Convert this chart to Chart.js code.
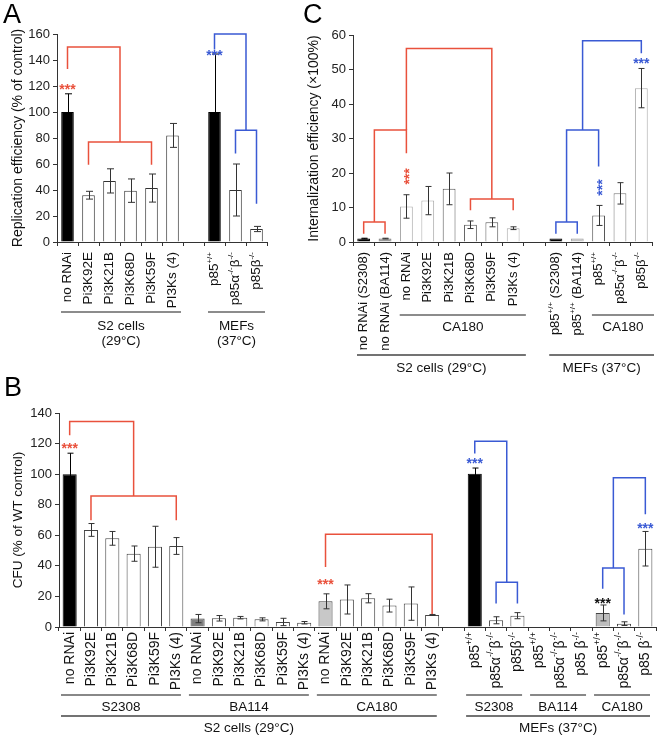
<!DOCTYPE html>
<html>
<head>
<meta charset="utf-8">
<script src="https://cdn.jsdelivr.net/npm/chart.js"></script>
<style>
  body { margin: 0; background: #fff; }
  #page { position: relative; width: 662px; height: 740px; }
  .box { position: absolute; }
</style>
</head>
<body>
<div id="page">
  <div class="box" style="left:0;top:0;width:290px;height:360px"><canvas id="chartA"></canvas></div>
  <div class="box" style="left:295px;top:0;width:367px;height:380px"><canvas id="chartC"></canvas></div>
  <div class="box" style="left:0;top:365px;width:662px;height:375px"><canvas id="chartB"></canvas></div>
</div>
<script>
// ---- panel A: replication efficiency
const labelsA = ['no RNAi', 'Pi3K92E', 'Pi3K21B', 'Pi3K68D', 'Pi3K59F', 'PI3Ks (4)', '',
  'p85^{+/+}', 'p85α^{-/-}β^{-/-}', 'p85β^{-/-}'];
const valuesA = [100, 36, 47, 39.5, 41.5, 82, null, 100, 40, 10];
const errorsA = [14, 3, 9.3, 9, 10.8, 9.2, null, 44.6, 20, 2];
const yTicksA = [0, 20, 40, 60, 80, 100, 120, 140, 160];
// brackets: horizontal at y from x1 to x2, drops to y1 / y2
const bracketsA = [
  { x1: 0, x2: 2.5, y: 150, y1: 133, y2: 77, c: 'red' },
  { x1: 1, x2: 4, y: 77, y1: 59.5, y2: 59.5, c: 'red' },
  { x1: 7, x2: 8.5, y: 160, y1: 148, y2: 86, c: 'blue' },
  { x1: 8, x2: 9, y: 86, y1: 68, y2: 29.5, c: 'blue' }
];
const starsA = [{ x: 0, y: 120, c: 'red' }, { x: 7, y: 146, c: 'blue' }];
const groupsA = [
  { from: 0, to: 5, text: ['S2 cells', '(29°C)'] },
  { from: 7, to: 9, text: ['MEFs', '(37°C)'] }
];

// ---- panel C: internalization efficiency
const labelsC = ['no RNAi (S2308)', 'no RNAi (BA114)', 'no RNAi', 'Pi3K92E', 'Pi3K21B', 'Pi3K68D',
  'Pi3K59F', 'PI3Ks (4)', '', 'p85^{+/+} (S2308)', 'p85^{+/+} (BA114)', 'p85^{+/+}',
  'p85α^{-/-}β^{-/-}', 'p85β^{-/-}'];
const valuesC = [1, 1, 10.3, 12, 15.4, 5, 5.7, 4, null, 1, 1, 7.7, 14.1, 44.6];
const errorsC = [0.1, 0.1, 3.4, 4.1, 4.6, 1.1, 1.3, 0.4, null, 0, 0, 2.9, 3.1, 5.7];
const yTicksC = [0, 10, 20, 30, 40, 50, 60];
const bracketsC = [
  { x1: 0, x2: 1, y: 5.8, y1: 2.4, y2: 2.4, c: 'red' },
  { x1: 0.5, x2: 2, y: 32.5, y1: 5.8, y2: 25.7, c: 'red' },
  { x1: 2, x2: 6, y: 56.1, y1: 32.5, y2: 12.5, c: 'red' },
  { x1: 5, x2: 7, y: 12.5, y1: 9.2, y2: 9.2, c: 'red' },
  { x1: 9, x2: 10, y: 5.8, y1: 2.4, y2: 2.4, c: 'blue' },
  { x1: 9.5, x2: 11, y: 32.5, y1: 5.8, y2: 21.9, c: 'blue' },
  { x1: 10.25, x2: 13, y: 58.3, y1: 32.5, y2: 54.7, c: 'blue' }
];
const starsC = [
  { x: 2, y: 19, c: 'red', rot: true },
  { x: 11, y: 15.8, c: 'blue', rot: true },
  { x: 13, y: 52.7, c: 'blue' }
];
const groupsC1 = [{ from: 2, to: 7, text: ['CA180'] }, { from: 11, to: 13, text: ['CA180'] }];
const groupsC2 = [{ from: 0, to: 7, text: ['S2 cells (29°C)'] }, { from: 9, to: 13, text: ['MEFs (37°C)'] }];

// ---- panel B: CFU
const rnaiSet = ['no RNAi', 'Pi3K92E', 'Pi3K21B', 'Pi3K68D', 'Pi3K59F', 'PI3Ks (4)'];
const labelsB = [...rnaiSet, ...rnaiSet, ...rnaiSet, '',
  'p85^{+/+}', 'p85α^{-/-}β^{-/-}', 'p85β^{-/-}',
  'p85^{+/+}', 'p85α^{-/-}β^{-/-}', 'p85 β^{-/-}',
  'p85^{+/+}', 'p85α^{-/-}β^{-/-}', 'p85 β^{-/-}'];
const valuesB = [100, 63.5, 58, 48, 52.5, 53,
  5.5, 5.7, 6.1, 5, 3.3, 2.8,
  16.8, 18, 18.8, 14, 15.3, 7.9, null,
  100.3, 4.4, 7.4, 0.3, 0.3, 0.3, 9.2, 2.2, 51.2];
const errorsB = [13.7, 4.2, 4.5, 5, 13.4, 5.5,
  2.7, 1.8, 0.8, 1, 2.4, 0.8,
  4.9, 9.5, 3, 4.2, 10.9, 0.3, null,
  3.7, 2.3, 2, 0, 0, 0, 5.2, 1.2, 11.3];
const yTicksB = [0, 20, 40, 60, 80, 100, 120, 140];
const bracketsB = [
  { x1: 0, x2: 3, y: 134.5, y1: 125.4, y2: 85.7, c: 'red' },
  { x1: 1, x2: 5, y: 85.7, y1: 69.8, y2: 69.8, c: 'red' },
  { x1: 12, x2: 17, y: 60.6, y1: 39.2, y2: 8.5, c: 'red' },
  { x1: 19, x2: 20.5, y: 121.5, y1: 113.5, y2: 29.2, c: 'blue' },
  { x1: 20, x2: 21, y: 29.2, y1: 15.4, y2: 15.4, c: 'blue' },
  { x1: 25.5, x2: 27, y: 97.7, y1: 38.6, y2: 73.7, c: 'blue' },
  { x1: 25, x2: 26, y: 38.6, y1: 25, y2: 8.1, c: 'blue' }
];
const starsB = [
  { x: 0, y: 118.8, c: 'red' }, { x: 12, y: 30, c: 'red' }, { x: 19, y: 109.5, c: 'blue' },
  { x: 25, y: 17.5, c: 'black' }, { x: 27, y: 66.5, c: 'blue' }
];
const groupsB1 = [
  { from: 0, to: 5, text: ['S2308'] }, { from: 6, to: 11, text: ['BA114'] }, { from: 12, to: 17, text: ['CA180'] },
  { from: 19, to: 21, text: ['S2308'] }, { from: 22, to: 24, text: ['BA114'] }, { from: 25, to: 27, text: ['CA180'] }
];
const groupsB2 = [{ from: 0, to: 17, text: ['S2 cells (29°C)'] }, { from: 19, to: 27, text: ['MEFs (37°C)'] }];

// ---- styles
const FONT = '"Liberation Sans", Arial, sans-serif';
const AXIS = '#333';
const MARK = { red: '#e9513c', blue: '#3a5ad4', black: '#111' };
const W = '#fff';
const fillsA = ['#000', W, W, W, W, W, W, '#000', W, W];
const edgesA = ['#000', '#333', '#333', '#333', '#333', '#333', '#333', '#000', '#333', '#333'];
const fillsC = ['#000', '#9a9a9a', W, W, W, W, W, W, W, '#000', '#c4c4c4', W, W, W];
const edgesC = ['#000', '#777', '#aaa', '#aaa', '#555', '#555', '#555', '#aaa', '#555', '#000', '#999', '#555', '#777', '#aaa'];
const fillsB = ['#000', W, W, W, W, W, '#808080', W, W, W, W, W, '#c8c8c8', W, W, W, W, W, W,
  '#000', W, W, W, W, W, '#bdbdbd', W, W];
const edgesB = fillsB.map(c => c === '#000' ? '#000' : '#444');

Chart.defaults.font.family = FONT;

function parseRich(s) {
  const segs = [];
  const re = /\^\{([^}]*)\}/g;
  let last = 0, m;
  while ((m = re.exec(s))) {
    if (m.index > last) segs.push({ t: s.slice(last, m.index), sup: false });
    segs.push({ t: m[1], sup: true });
    last = re.lastIndex;
  }
  if (last < s.length) segs.push({ t: s.slice(last), sup: false });
  return segs;
}

function drawRotated(ctx, text, x, yTop, size) {
  const segs = parseRich(text);
  const main = size + 'px ' + FONT;
  const sup = Math.round(size * 0.62) + 'px ' + FONT;
  let w = 0;
  segs.forEach(s => { ctx.font = s.sup ? sup : main; s.w = ctx.measureText(s.t).width; w += s.w; });
  ctx.save();
  ctx.translate(x, yTop);
  ctx.rotate(-Math.PI / 2);
  ctx.textBaseline = 'middle';
  ctx.textAlign = 'left';
  let cx = -w;
  segs.forEach(s => {
    ctx.font = s.sup ? sup : main;
    ctx.fillText(s.t, cx, s.sup ? -size * 0.38 : 0);
    cx += s.w;
  });
  ctx.restore();
}

function makeDecor(cfg) {
  return {
    id: 'decor',
    afterDatasetsDraw(chart) {
      // error bars
      const ctx = chart.ctx, ys = chart.scales.y, xs = chart.scales.x;
      ctx.save();
      ctx.lineWidth = 1;
      cfg.values.forEach((v, i) => {
        const e = cfg.errors[i];
        if (v == null || !e) return;
        ctx.strokeStyle = cfg.fills[i] === '#000' ? '#000' : '#333';
        const x = Math.round(xs.getPixelForValue(i)) + 0.5;
        const t = ys.getPixelForValue(v + e), b = ys.getPixelForValue(Math.max(v - e, 0));
        ctx.beginPath();
        ctx.moveTo(x, t); ctx.lineTo(x, b);
        ctx.moveTo(x - cfg.cap, t); ctx.lineTo(x + cfg.cap, t);
        ctx.moveTo(x - cfg.cap, b); ctx.lineTo(x + cfg.cap, b);
        ctx.stroke();
      });
      ctx.restore();
    },
    afterDraw(chart) {
      const ctx = chart.ctx, ys = chart.scales.y, xs = chart.scales.x;
      const bottom = chart.chartArea.bottom;
      const px = i => xs.getPixelForValue(i);
      const half = (px(1) - px(0)) / 2;
      ctx.save();
      // panel letter
      ctx.fillStyle = '#000';
      ctx.font = '27px ' + FONT;
      ctx.textAlign = 'left';
      ctx.textBaseline = 'alphabetic';
      ctx.fillText(cfg.letter[0], cfg.letter[1], cfg.letter[2]);
      // category labels
      ctx.fillStyle = '#111';
      cfg.labels.forEach((l, i) => { if (l) drawRotated(ctx, l, px(i), bottom + cfg.labelGap, cfg.labelSize); });
      // group lines and texts
      cfg.groups.forEach(g => {
        g.list.forEach(it => {
          const a = px(it.from) - half + cfg.inset[0], b = px(it.to) + half - cfg.inset[1];
          ctx.strokeStyle = g.color;
          ctx.lineWidth = g.width;
          ctx.beginPath();
          ctx.moveTo(a, bottom + g.line); ctx.lineTo(b, bottom + g.line);
          ctx.stroke();
          ctx.fillStyle = '#111';
          ctx.font = cfg.groupSize + 'px ' + FONT;
          ctx.textAlign = 'center';
          ctx.textBaseline = 'middle';
          it.text.forEach((t, k) => ctx.fillText(t, (a + b) / 2, bottom + g.text[k]));
        });
      });
      // significance brackets
      ctx.lineWidth = 1.5;
      cfg.brackets.forEach(br => {
        ctx.strokeStyle = MARK[br.c];
        const a = px(br.x1), b = px(br.x2), y = ys.getPixelForValue(br.y);
        ctx.beginPath();
        ctx.moveTo(a, ys.getPixelForValue(br.y1));
        ctx.lineTo(a, y); ctx.lineTo(b, y);
        ctx.lineTo(b, ys.getPixelForValue(br.y2));
        ctx.stroke();
      });
      // stars
      const ss = 14;
      cfg.stars.forEach(s => {
        ctx.save();
        ctx.fillStyle = MARK[s.c];
        ctx.font = 'bold ' + ss + 'px ' + FONT;
        ctx.textAlign = 'center';
        ctx.textBaseline = 'alphabetic';
        ctx.translate(px(s.x), ys.getPixelForValue(s.y));
        if (s.rot) ctx.rotate(-Math.PI / 2);
        ctx.fillText('***', 0, ss * 0.57);
        ctx.restore();
      });
      ctx.restore();
    }
  };
}

function buildPanel(id, cfg) {
  return new Chart(document.getElementById(id), {
    type: 'bar',
    data: {
      labels: cfg.labels,
      datasets: [{
        data: cfg.values,
        backgroundColor: cfg.fills,
        borderColor: cfg.edges,
        borderWidth: 1,
        barPercentage: cfg.barPct,
        categoryPercentage: 1
      }]
    },
    options: {
      responsive: true,
      maintainAspectRatio: false,
      animation: false,
      layout: { padding: cfg.padding },
      plugins: { legend: { display: false }, tooltip: { enabled: false } },
      scales: {
        x: {
          grid: { drawOnChartArea: false, tickLength: 4, color: AXIS },
          border: { color: AXIS },
          ticks: { display: false },
          afterFit: s => { s.height = 6; }
        },
        y: {
          min: 0,
          max: cfg.yTicks[cfg.yTicks.length - 1],
          afterBuildTicks: s => { s.ticks = cfg.yTicks.map(v => ({ value: v })); },
          ticks: { font: { size: 13 }, color: '#222', padding: 3 },
          grid: { drawOnChartArea: false, tickLength: 4, color: AXIS },
          border: { color: AXIS },
          title: {
            display: true, text: cfg.yTitle, color: '#111',
            font: { size: cfg.titleSize }, padding: { top: cfg.titlePad, bottom: 0 }
          },
          afterFit: s => { s.width = cfg.yWidth; }
        }
      }
    },
    plugins: [makeDecor(cfg)]
  });
}

buildPanel('chartA', {
  labels: labelsA, values: valuesA, errors: errorsA, yTicks: yTicksA,
  fills: fillsA, edges: edgesA, barPct: 0.6, cap: 3.5,
  brackets: bracketsA, stars: starsA,
  yTitle: 'Replication efficiency (% of control)', titleSize: 14, titlePad: 10, yWidth: 57,
  padding: { left: 0, top: 34, right: 23, bottom: 112 },
  letter: ['A', 3, 23], labelGap: 10, labelSize: 13.5, groupSize: 13.5, inset: [4, 2],
  groups: [{ list: groupsA, line: 70, text: [84, 99], color: '#666', width: 1.5 }]
});

buildPanel('chartC', {
  labels: labelsC, values: valuesC, errors: errorsC, yTicks: yTicksC,
  fills: fillsC, edges: edgesC, barPct: 0.6, cap: 3,
  brackets: bracketsC, stars: starsC,
  yTitle: 'Internalization efficiency (×100%)', titleSize: 14, titlePad: 11, yWidth: 58,
  padding: { left: 0, top: 35, right: 10, bottom: 132 },
  letter: ['C', 8, 23], labelGap: 10, labelSize: 13, groupSize: 13.5, inset: [4, -2],
  groups: [
    { list: groupsC1, line: 73, text: [85], color: '#666', width: 1.5 },
    { list: groupsC2, line: 113, text: [126], color: '#444', width: 1.5 }
  ]
});

buildPanel('chartB', {
  labels: labelsB, values: valuesB, errors: errorsB, yTicks: yTicksB,
  fills: fillsB, edges: edgesB, barPct: 0.66, cap: 3,
  brackets: bracketsB, stars: starsB,
  yTitle: 'CFU (% of WT control)', titleSize: 13.5, titlePad: 10, yWidth: 59,
  padding: { left: 0, top: 48, right: 6, bottom: 107 },
  letter: ['B', 4, 31], labelGap: 5, labelSize: 14, groupSize: 13.5, inset: [2, 6],
  groups: [
    { list: groupsB1, line: 68, text: [80], color: '#888', width: 2 },
    { list: groupsB2, line: 89, text: [101], color: '#444', width: 1.5 }
  ]
});
</script>
</body>
</html>
